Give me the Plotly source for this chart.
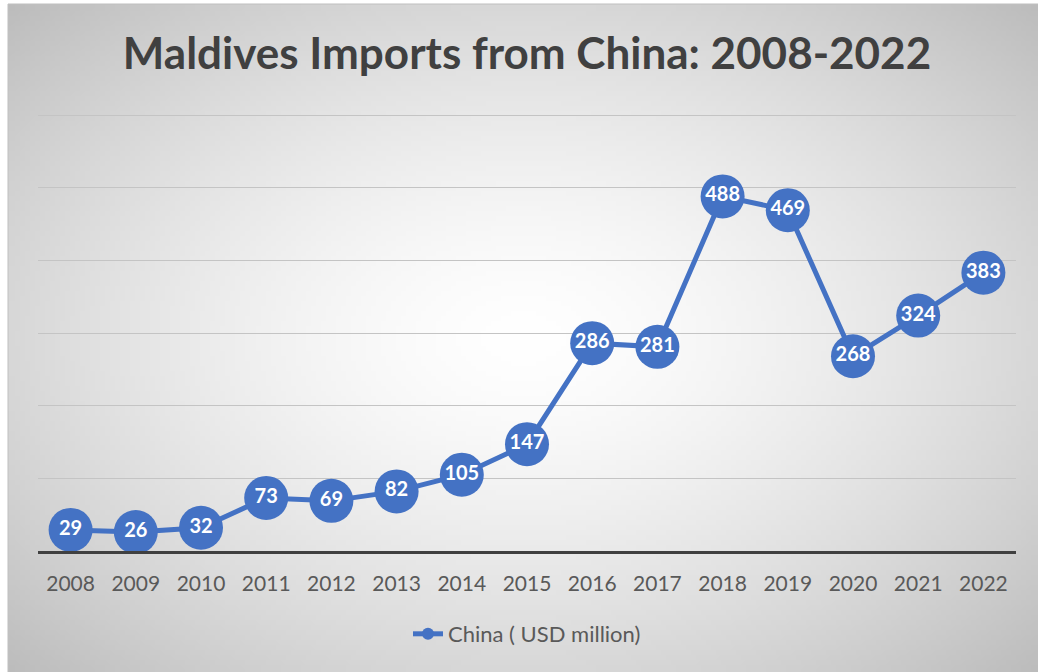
import base64
import struct
import zlib

import numpy as np
import plotly.graph_objects as go

# Maldives imports from China, USD million
years = ["2008", "2009", "2010", "2011", "2012", "2013", "2014", "2015",
         "2016", "2017", "2018", "2019", "2020", "2021", "2022"]
imports_usd_million = [29, 26, 32, 73, 69, 82, 105, 147, 286, 281, 488, 469, 268, 324, 383]
series_name = "China ( USD million)"
chart_title = "Maldives Imports from China: 2008-2022"

W, H = 1038, 672
ML, MR, MT, MB = 38, 22, 111, 121
PW, PH = W - ML - MR, H - MT - MB
Y_TOP = 600 * PH / 436  # keeps the 600 gridline a few pixels below the plot edge

BLUE = "#4472C4"
FONT = "Lato, 'Open Sans', sans-serif"


def px_to_paper_x(px):
    return (px - ML) / PW


def px_to_paper_y(py):
    return (H - MB - py) / PH


def radial_gradient_png(w, h, inner=255, outer=188, power=1.5):
    """Build a small PNG (as data URI) with a white-centred radial gradient."""
    yy, xx = np.mgrid[0:h, 0:w]
    dx = (xx + 0.5) / w - 0.5
    dy = (yy + 0.5) / h - 0.5
    d = np.sqrt(dx ** 2 + dy ** 2) / np.sqrt(0.5)
    d = np.clip(d, 0, 1) ** power
    v = (inner - (inner - outer) * d).astype(np.uint8)
    rgb = np.stack([v, v, v], axis=-1)
    raw = b"".join(b"\x00" + rgb[r].tobytes() for r in range(h))

    def chunk(tag, data):
        c = struct.pack(">I", len(data)) + tag + data
        return c + struct.pack(">I", zlib.crc32(tag + data) & 0xFFFFFFFF)

    png = b"\x89PNG\r\n\x1a\n"
    png += chunk(b"IHDR", struct.pack(">IIBBBBB", w, h, 8, 2, 0, 0, 0))
    png += chunk(b"IDAT", zlib.compress(raw, 9))
    png += chunk(b"IEND", b"")
    return "data:image/png;base64," + base64.b64encode(png).decode()


fig = go.Figure()

fig.add_trace(go.Scatter(
    x=years,
    y=imports_usd_million,
    mode="lines+markers+text",
    name=series_name,
    line=dict(color=BLUE, width=5),
    marker=dict(color=BLUE, size=44),
    text=[str(v) for v in imports_usd_million],
    textposition="middle center",
    textfont=dict(family=FONT, size=20, color="white", weight="bold"),
    cliponaxis=False,
    showlegend=True,
))

# chart-area background and frame
bg_x0, bg_y0 = 8, 4
fig.add_layout_image(dict(
    source=radial_gradient_png(206, 134),
    xref="paper", yref="paper",
    x=px_to_paper_x(bg_x0), y=px_to_paper_y(bg_y0),
    sizex=(W - bg_x0) / PW, sizey=(H - bg_y0) / PH,
    xanchor="left", yanchor="top",
    sizing="stretch", layer="below",
))
fig.add_shape(
    type="rect", xref="paper", yref="paper",
    x0=px_to_paper_x(bg_x0), x1=px_to_paper_x(W + 2),
    y0=px_to_paper_y(H + 2), y1=px_to_paper_y(bg_y0),
    line=dict(color="#BFBFBF", width=1), fillcolor="rgba(0,0,0,0)",
    layer="below",
)

fig.update_layout(
    width=W, height=H,
    margin=dict(l=ML, r=MR, t=MT, b=MB),
    paper_bgcolor="white",
    plot_bgcolor="rgba(0,0,0,0)",
    title=dict(
        text=chart_title,
        x=527 / W, xanchor="center",
        y=1 - 54 / H, yanchor="middle",
        font=dict(family=FONT, size=44, color="#404040", weight="bold"),
    ),
    legend=dict(
        orientation="h",
        x=0.5, xanchor="center",
        y=px_to_paper_y(634), yanchor="middle",
        font=dict(family=FONT, size=22, color="#595959"),
        itemsizing="constant",
        bgcolor="rgba(0,0,0,0)",
    ),
    showlegend=True,
)

fig.update_xaxes(
    type="category",
    range=[-0.5, len(years) - 0.5],
    showgrid=False,
    showline=True, linecolor="#404040", linewidth=3,
    ticks="",
    ticklabelstandoff=12,
    tickfont=dict(family=FONT, size=21, color="#595959"),
    fixedrange=True,
)
fig.update_yaxes(
    range=[0, Y_TOP],
    dtick=100,
    showgrid=True, gridcolor="#C4C4C4", gridwidth=1.3,
    zeroline=False,
    showticklabels=False,
    ticks="",
    fixedrange=True,
)

fig.write_html("out.html")
